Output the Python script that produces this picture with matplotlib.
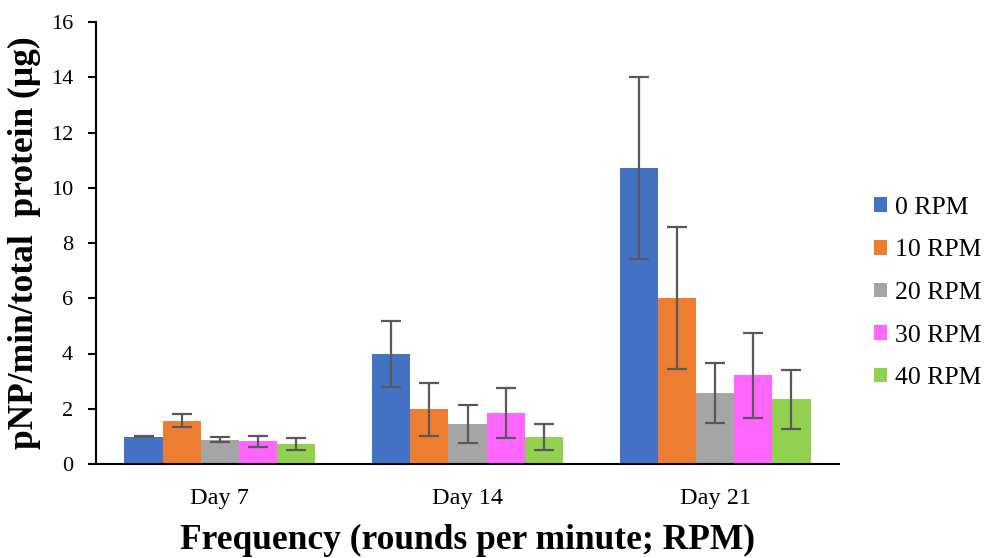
import numpy as np
import matplotlib
matplotlib.use("Agg")
import matplotlib.pyplot as plt

# Values
days = ["Day 7", "Day 14", "Day 21"]
series = ["0 RPM", "10 RPM", "20 RPM", "30 RPM", "40 RPM"]
means = {
    "0 RPM": [0.99, 3.99, 10.72],
    "10 RPM": [1.57, 1.99, 6.01],
    "20 RPM": [0.87, 1.45, 2.58],
    "30 RPM": [0.82, 1.84, 3.21],
    "40 RPM": [0.71, 0.99, 2.34],
}
errors = {
    "0 RPM": [0.03, 1.19, 3.30],
    "10 RPM": [0.24, 0.96, 2.58],
    "20 RPM": [0.09, 0.69, 1.09],
    "30 RPM": [0.20, 0.90, 1.54],
    "40 RPM": [0.22, 0.47, 1.07],
}
colors = ["#4472C4", "#ED7D31", "#A5A5A5", "#FF66FF", "#92D050"]

plt.rcParams["font.family"] = ["Liberation Serif", "DejaVu Serif"]

fig = plt.figure(figsize=(9.89, 5.58), dpi=100)
ax = fig.add_axes([96 / 989, 1 - 464 / 558, 743 / 989, 442 / 558])

x = np.arange(len(days))
width = 0.154
for i, name in enumerate(series):
    pos = x + (i - 2) * width
    ax.bar(pos, means[name], width, color=colors[i], label=name,
           yerr=errors[name], capsize=7.5,
           error_kw=dict(ecolor="#595959", elinewidth=1.6, capthick=1.6))

ax.set_xlim(-0.5, 2.5)
ax.set_ylim(0, 16)
ax.set_yticks(range(0, 17, 2))
ax.set_xticks(x)
ax.set_xticklabels(days)
ax.tick_params(axis="x", length=0, labelsize=17.5, pad=17)
ax.tick_params(axis="y", length=5.5, width=1.5, labelsize=16, pad=11,
               direction="out")

for side in ["top", "right"]:
    ax.spines[side].set_visible(False)
for side in ["left", "bottom"]:
    ax.spines[side].set_linewidth(1.5)

ax.set_ylabel("pNP/min/total  protein (µg)", fontsize=25.5, fontweight="bold", labelpad=7)
ax.set_xlabel("Frequency (rounds per minute; RPM)", fontsize=25.5, fontweight="bold", labelpad=11)

ax.legend(loc="center left", bbox_to_anchor=(874 / 989, 1 - 293 / 558),
          bbox_transform=fig.transFigure, frameon=False, borderpad=0,
          borderaxespad=0, fontsize=18.5, handlelength=0.5, handleheight=0.5,
          handletextpad=0.3, labelspacing=0.8)

fig.savefig("out.png", dpi=100)
